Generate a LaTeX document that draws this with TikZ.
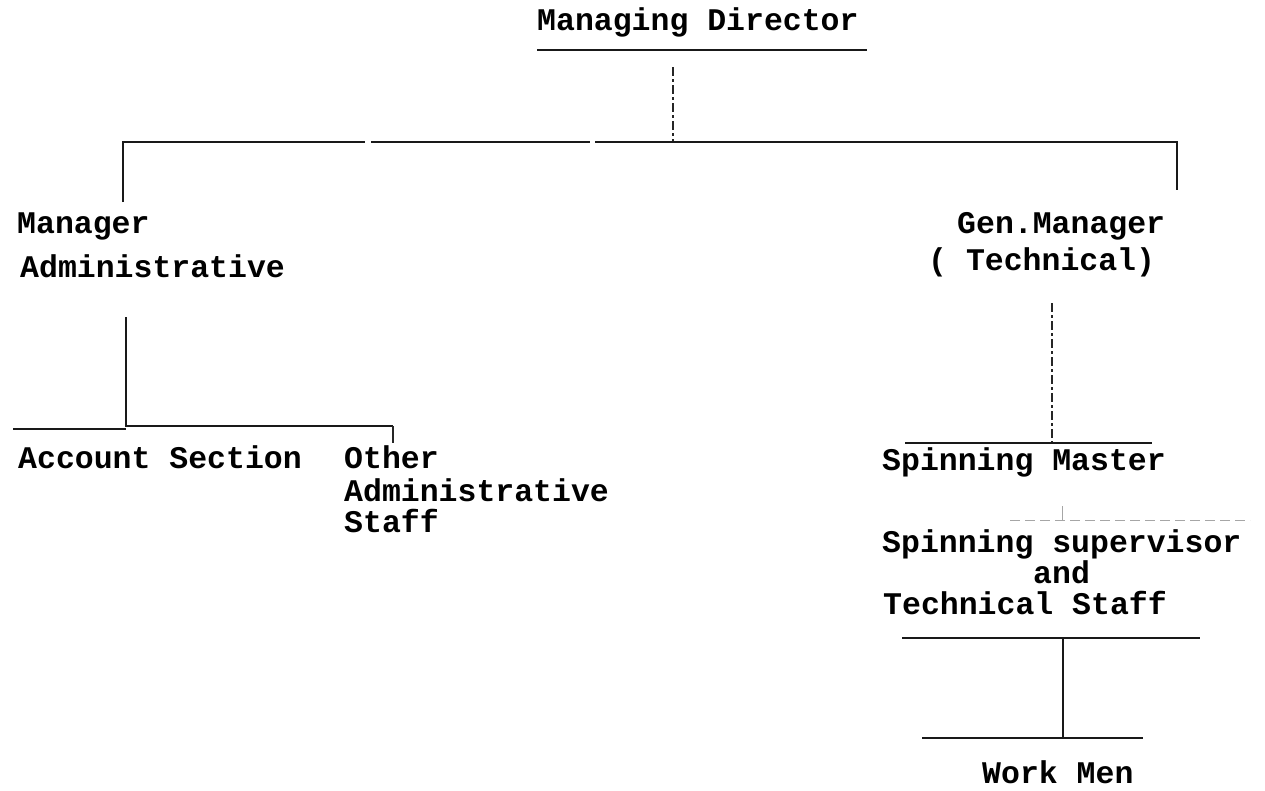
\documentclass[tikz,border=0pt]{standalone}
\usepackage{fontspec}
\newfontfamily\tw{Liberation Mono}
\begin{document}
\begin{tikzpicture}[x=1pt,y=-1pt,
  lbl/.style={anchor=base west,inner sep=0pt,font=\tw\bfseries\fontsize{31.5}{36}\selectfont},
  ln/.style={line width=2pt,black!90},
  thin ln/.style={line width=1.2pt,black!85},
  dash ln/.style={line width=1.6pt,black!85,dash pattern=on 9pt off 3pt on 3pt off 3pt},
  faint ln/.style={line width=1pt,black!35,dash pattern=on 10pt off 5pt}]
\useasboundingbox (0,0) rectangle (1265,790);

% texts
\node[lbl] (md) at (537,30) {Managing Director};
\node[lbl] (mgr1) at (17,233) {Manager};
\node[lbl] (mgr2) at (20,277) {Administrative};
\node[lbl] (gm1) at (957,233) {Gen.Manager};
\node[lbl] (gm2) at (928,270) {( Technical)};
\node[lbl] (acc) at (18,468) {Account Section};
\node[lbl] (oth1) at (344,468) {Other};
\node[lbl] (oth2) at (344,501) {Administrative};
\node[lbl] (oth3) at (344,532) {Staff};
\node[lbl] (sm) at (882,470) {Spinning Master};
\node[lbl] (ss1) at (882,552) {Spinning supervisor};
\node[lbl] (ss2) at (1033,583) {and};
\node[lbl] (ss3) at (883,614) {Technical Staff};
\node[lbl] (wm) at (982,783) {Work Men};

% coordinates
\coordinate (mdulL) at (537,50);
\coordinate (mdulR) at (867,50);
\coordinate (mdtop) at (673,67);
\coordinate (mdjoin) at (673,142);
\coordinate (topL) at (123,142);
\coordinate (topR) at (1177,142);
\coordinate (gapA) at (365,142);
\coordinate (gapB) at (371,142);
\coordinate (gapC) at (590,142);
\coordinate (gapD) at (595,142);
\coordinate (mgrtop) at (123,202);
\coordinate (gmtop) at (1177,190);

\coordinate (admtop) at (126,317);
\coordinate (admjoin) at (126,426);
\coordinate (accL) at (13,429);
\coordinate (accR) at (126,429);
\coordinate (othR) at (393,426);
\coordinate (othtick) at (393,443);

\coordinate (gmbot) at (1052,303);
\coordinate (smjoin) at (1052,443);
\coordinate (smulL) at (905,443);
\coordinate (smulR) at (1152,443);

\coordinate (ssL) at (1010,520);
\coordinate (ssR) at (1250,520);
\coordinate (sstick) at (1062,506);
\coordinate (ssjoin) at (1062,520);

\coordinate (tsL) at (902,638);
\coordinate (tsR) at (1200,638);
\coordinate (tsjoin) at (1063,638);
\coordinate (wmjoin) at (1063,738);
\coordinate (wmL) at (922,738);
\coordinate (wmR) at (1143,738);

% connectors
\draw[ln] (mdulL) -- (mdulR);
\draw[dash ln] (mdtop) -- (mdjoin);
\draw[ln] (mgrtop) -- (topL) -- (gapA);
\draw[ln] (gapB) -- (gapC);
\draw[ln] (gapD) -- (topR) -- (gmtop);

\draw[ln] (admtop) -- (admjoin) -- (othR);
\draw[ln] (accL) -- (accR);
\draw[thin ln] (othR) -- (othtick);

\draw[dash ln] (gmbot) -- (smjoin);
\draw[ln] (smulL) -- (smulR);

\draw[faint ln] (ssL) -- (ssR);
\draw[line width=1pt,black!35] (sstick) -- (ssjoin);

\draw[ln] (tsL) -- (tsR);
\draw[ln] (tsjoin) -- (wmjoin);
\draw[ln] (wmL) -- (wmR);
\end{tikzpicture}
\end{document}
